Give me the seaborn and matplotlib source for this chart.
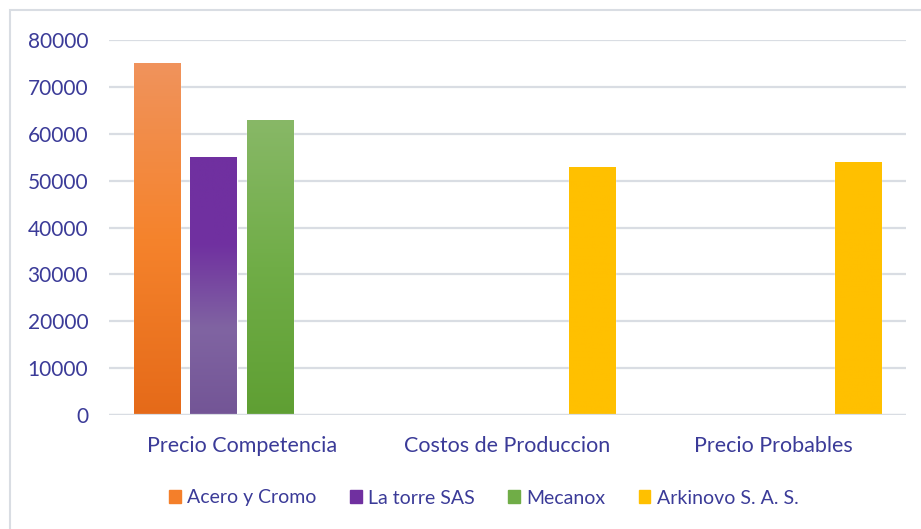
import matplotlib
matplotlib.use('Agg')
import matplotlib.pyplot as plt
import matplotlib.patches as mpatches
from matplotlib.colors import LinearSegmentedColormap
import numpy as np
import pandas as pd
import seaborn as sns

categories = ['Precio Competencia', 'Costos de Produccion', 'Precio Probables']
series = ['Acero y Cromo', 'La torre SAS', 'Mecanox', 'Arkinovo S. A. S.']
acero = [75000, np.nan, np.nan]
latorre = [55000, np.nan, np.nan]
mecanox = [63000, np.nan, np.nan]
arkinovo = [np.nan, 53000, 54000]
y_ticks = [0, 10000, 20000, 30000, 40000, 50000, 60000, 70000, 80000]

rows = []
for name, vals in zip(series, [acero, latorre, mecanox, arkinovo]):
    for cat, v in zip(categories, vals):
        rows.append({'Categoria': cat, 'Empresa': name, 'Valor': v})
df = pd.DataFrame(rows)

# top -> bottom gradient stops for each series
gradients = {
    'Acero y Cromo': ['#f0935c', '#f5832c', '#e56a19'],
    'La torre SAS': ['#7030a0', '#7030a0', '#8064a2', '#735596'],
    'Mecanox': ['#88b867', '#70ad47', '#5f9f33'],
    'Arkinovo S. A. S.': ['#ffc000', '#ffc000'],
}
solid = {'Acero y Cromo': '#f47f2a', 'La torre SAS': '#7030a0',
         'Mecanox': '#70ad47', 'Arkinovo S. A. S.': '#ffc000'}
text_col = '#3b3b98'

sns.set_style('white')
plt.rcParams['font.family'] = ['Lato', 'DejaVu Sans']

fig = plt.figure(figsize=(9.21, 5.29), dpi=100)
ax = fig.add_axes([109/921, 114/529, 797/921, 375/529])

sns.barplot(data=df, x='Categoria', y='Valor', hue='Empresa', order=categories,
            hue_order=series, palette=solid, width=0.85, gap=0.18,
            ax=ax, legend=False, zorder=3)

ax.set_ylim(0, 80000)
ax.set_yticks(y_ticks)
ax.set_xlim(-0.5, 2.5)
ax.grid(axis='y', color='#d9dde3', linewidth=1.6, zorder=0)
ax.set_axisbelow(True)
for s in ax.spines.values():
    s.set_visible(False)
ax.set_xlabel('')
ax.set_ylabel('')
ax.tick_params(axis='y', length=0, pad=15, labelsize=15, labelcolor=text_col)
ax.tick_params(axis='x', length=0, pad=15, labelsize=15.5, labelcolor=text_col)

# gradient fill per bar
for container, name in zip(ax.containers, series):
    cmap = LinearSegmentedColormap.from_list(name, gradients[name][::-1])
    for bar in container:
        h = bar.get_height()
        if np.isnan(h) or h == 0:
            continue
        x0 = bar.get_x()
        w = bar.get_width()
        grad = np.linspace(0, 1, 256).reshape(-1, 1)
        im = ax.imshow(grad, cmap=cmap, origin='lower', aspect='auto',
                       extent=[x0, x0 + w, 0, h], zorder=4)
        im.set_clip_path(bar)
ax.set_xlim(-0.5, 2.5)
ax.set_ylim(0, 80000)

# bottom axis line
ax.axhline(0, color='#d9dde3', linewidth=1.6, zorder=5)

handles = [mpatches.Patch(color=solid[s], label=s) for s in series]
leg = fig.legend(handles=handles, loc='center', bbox_to_anchor=(484/921, 1 - 498/529),
                 ncol=4, frameon=False, fontsize=14, handlelength=0.6,
                 handleheight=0.6, handletextpad=0.35, columnspacing=1.7)
for t in leg.get_texts():
    t.set_color(text_col)

# chart border
fig.patches.append(mpatches.Rectangle((10/921, -0.1), 1.0, 1.1 - 10/529,
                                      transform=fig.transFigure, fill=False,
                                      edgecolor='#d9dde3', linewidth=1.5))

fig.savefig('out.png', dpi=100)
